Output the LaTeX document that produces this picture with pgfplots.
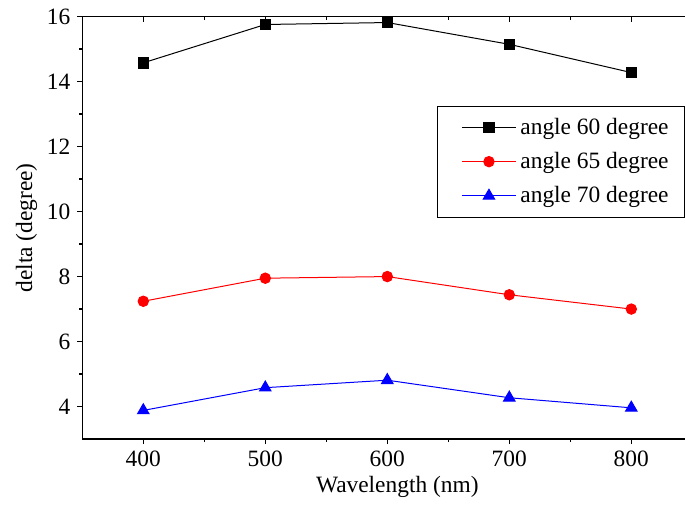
\documentclass[border=0pt]{standalone}
\usepackage{fontspec}
\setmainfont{Liberation Serif}
\usepackage{pgfplots}
\pgfplotsset{compat=1.18}

\pgfplotsset{
  common/.style={
    width=305pt, height=211.15pt, scale only axis,
    xmin=350, xmax=850, ymin=3, ymax=16,
    xtick={400,500,...,800}, ytick={4,6,...,16},
    minor x tick num=1, minor y tick num=1,
    major tick length=2.5pt, minor tick length=1.5pt,
    axis line style={line width=0.75pt},
    every tick/.style={black, line width=0.75pt},
    /pgf/number format/assume math mode=true,
    ticklabel style={font=\fontsize{11.7}{14}\selectfont},
    label style={font=\fontsize{11.7}{14}\selectfont},
  },
}

\begin{document}
\begin{tikzpicture}
\begin{axis}[common, name=ax,
    xtick pos=left, ytick pos=left, tick align=outside,
    xlabel={Wavelength (nm)},
    ylabel={delta (degree)},
    xlabel style={xshift=5pt, yshift=2pt},
    ylabel style={yshift=-2pt},
    legend cell align=left,
    legend style={at={(axis cs:640.7,13.26)}, anchor=north west,
      draw=black, line width=0.5pt, inner xsep=6pt, inner ysep=3.8pt,
      row sep=3.5pt,
      font=\fontsize{11.7}{14}\selectfont},
    legend image code/.code={
      \path (0cm,0cm);
      \draw[mark repeat=2,mark phase=2] plot coordinates {(6pt,0cm) (19.5pt,0cm) (33pt,0cm)};},
    ]
    \addplot[color=black, line width=0.5pt, mark=square*, mark size=2.6pt] coordinates {
        (400,14.58) (500,15.76) (600,15.82) (700,15.15) (800,14.28) };
        \addlegendentry{angle 60 degree\hspace{2.5pt}}
    \addplot[color=red, line width=0.5pt, mark=*, mark size=2.6pt] coordinates {
        (400,7.24) (500,7.95) (600,8.00) (700,7.44) (800,7.00) };
        \addlegendentry{angle 65 degree\hspace{2.5pt}}
    \addplot[color=blue, line width=0.5pt, mark=triangle*, mark size=3.3pt] coordinates {
        (400,3.88) (500,4.58) (600,4.81) (700,4.27) (800,3.96) };
        \addlegendentry{angle 70 degree\hspace{2.5pt}}
\end{axis}
\begin{axis}[common,
    xtick pos=right, ytick pos=right, tick align=inside,
    xticklabels={}, yticklabels={}]
\end{axis}
\pgfresetboundingbox
\path[use as bounding box] ([xshift=-41.15pt,yshift=-37.5pt]ax.south west)
    rectangle ([xshift=301.35pt,yshift=8.35pt]ax.north west);
\end{tikzpicture}
\end{document}
